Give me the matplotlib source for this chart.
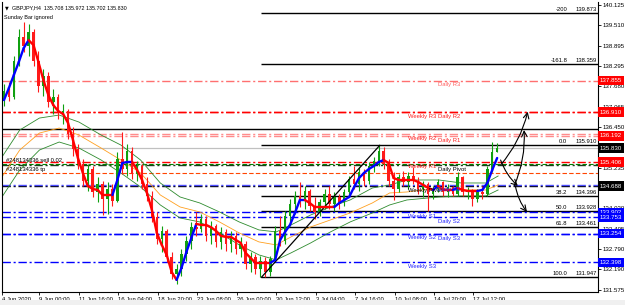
import numpy as np
import matplotlib
matplotlib.use('Agg')
import matplotlib.pyplot as plt
from matplotlib.collections import LineCollection
from matplotlib.transforms import blended_transform_factory

plt.rcParams['font.family'] = ['Liberation Sans', 'DejaVu Sans']

# GBPJPY H4, two bars merged per candle
c_open = [137.25, 137.55, 137.35, 138.45, 139.15, 138.90, 139.30, 138.45, 137.70, 138.00,
          137.20, 137.35, 136.90, 136.95, 136.25, 135.80, 135.35, 134.85, 135.20, 134.50,
          134.75, 134.30, 134.60, 134.25, 135.50, 135.20, 135.75, 135.05, 135.30, 134.75,
          134.40, 133.75, 133.10, 133.35, 132.55, 132.05, 132.20, 132.65, 133.05, 133.45,
          133.40, 133.70, 133.20, 133.50, 133.00, 133.30, 132.95, 133.20, 132.80, 132.95,
          132.35, 132.55, 132.20, 132.45, 132.10, 132.50, 133.35, 133.05, 133.80, 134.15,
          134.40, 134.25, 134.55, 134.10, 133.90, 134.20, 134.45, 134.15, 134.35, 134.20,
          134.50, 134.90, 134.75, 135.10, 134.85, 135.30, 135.45, 135.75, 135.35, 134.85,
          134.60, 134.95, 134.80, 135.00, 134.85, 134.60, 134.75, 134.45, 134.60, 134.80,
          134.50, 134.65, 134.45, 134.95, 134.50, 134.55, 134.30, 134.50, 134.45, 135.20,
          135.708]
c_high = [137.75, 137.80, 138.60, 139.40, 139.60, 139.55, 139.40, 138.75, 138.20, 138.10,
          137.60, 137.45, 137.15, 137.00, 136.45, 135.95, 135.50, 135.35, 135.30, 134.95,
          134.85, 134.80, 134.75, 135.70, 136.30, 135.95, 135.85, 135.45, 135.35, 134.95,
          134.55, 133.90, 133.50, 133.40, 132.70, 132.35, 132.80, 133.20, 133.60, 133.90,
          133.85, 133.80, 133.65, 133.55, 133.45, 133.40, 133.35, 133.30, 133.15, 133.05,
          132.70, 132.65, 132.60, 132.55, 132.60, 133.50, 133.80, 133.95, 134.30, 134.55,
          134.80, 134.70, 134.60, 134.35, 134.30, 134.60, 134.70, 134.50, 134.45, 134.60,
          135.00, 135.30, 135.25, 135.20, 135.40, 135.55, 135.91, 135.85, 135.50, 135.10,
          135.05, 135.15, 135.10, 135.25, 134.95, 134.85, 134.80, 134.70, 134.90, 134.85,
          134.75, 134.70, 135.10, 135.00, 134.65, 134.60, 134.60, 134.70, 135.30, 136.00,
          135.972]
c_low = [137.10, 137.25, 137.30, 138.30, 138.70, 138.60, 138.30, 137.50, 137.40, 137.05,
         136.85, 136.70, 136.55, 136.10, 135.60, 135.20, 134.70, 134.55, 134.35, 134.20,
         133.82, 133.85, 134.10, 134.20, 135.05, 135.00, 134.90, 134.85, 134.60, 134.25,
         133.60, 132.95, 132.70, 132.40, 131.90, 131.75, 132.00, 132.45, 132.80, 133.20,
         133.30, 133.05, 132.95, 132.85, 132.80, 132.75, 132.70, 132.65, 132.55, 132.20,
         132.10, 132.05, 131.95, 131.947, 132.00, 132.40, 132.90, 132.95, 133.50, 133.85,
         134.05, 134.00, 133.95, 133.70, 133.80, 134.00, 134.00, 133.95, 134.00, 134.10,
         134.35, 134.60, 134.55, 134.70, 134.75, 135.10, 135.30, 135.20, 134.70, 134.27,
         134.50, 134.70, 134.60, 134.75, 134.45, 134.35, 133.95, 134.30, 134.50, 134.40,
         134.35, 134.40, 134.40, 134.40, 134.30, 134.10, 134.20, 134.30, 134.40, 135.10,
         135.702]
c_close = [137.55, 137.35, 138.45, 139.15, 138.90, 139.30, 138.45, 137.70, 138.00, 137.20,
           137.35, 136.90, 136.95, 136.25, 135.80, 135.35, 134.85, 135.20, 134.50, 134.75,
           134.30, 134.60, 134.25, 135.50, 135.20, 135.75, 135.05, 135.30, 134.75, 134.40,
           133.75, 133.10, 133.35, 132.55, 132.05, 132.20, 132.65, 133.05, 133.45, 133.40,
           133.70, 133.20, 133.50, 133.00, 133.30, 132.95, 133.20, 132.80, 132.95, 132.35,
           132.55, 132.20, 132.45, 132.10, 132.50, 133.35, 133.05, 133.80, 134.15, 134.40,
           134.25, 134.55, 134.10, 133.90, 134.20, 134.45, 134.15, 134.35, 134.20, 134.50,
           134.90, 134.75, 135.10, 134.85, 135.30, 135.45, 135.75, 135.35, 134.85, 134.60,
           134.95, 134.80, 135.00, 134.85, 134.60, 134.75, 134.45, 134.60, 134.80, 134.50,
           134.65, 134.45, 134.95, 134.50, 134.55, 134.30, 134.50, 134.45, 135.20, 135.71,
           135.830]

# slope-coloured trend line, one value per candle
trend_line = [137.27, 137.63, 138.02, 138.41, 138.83, 139.07, 138.92, 138.41, 137.87, 137.42,
              137.12, 136.94, 136.85, 136.58, 136.07, 135.53, 135.08, 134.69, 134.60, 134.57,
              134.42, 134.42, 134.42, 134.87, 135.38, 135.41, 135.41, 135.17, 134.87, 134.48,
              133.97, 133.28, 132.92, 132.62, 132.11, 131.87, 132.23, 132.71, 133.13, 133.55,
              133.52, 133.52, 133.45, 133.34, 133.19, 133.16, 133.16, 133.07, 132.98, 132.68,
              132.53, 132.38, 132.38, 132.38, 132.38, 132.47, 133.07, 133.31, 133.52, 133.88,
              134.27, 134.27, 134.18, 134.06, 134.06, 134.06, 134.06, 134.06, 134.18, 134.27,
              134.36, 134.66, 134.93, 135.08, 135.20, 135.29, 135.41, 135.47, 135.38, 134.93,
              134.87, 134.87, 134.87, 134.87, 134.81, 134.72, 134.63, 134.57, 134.69, 134.57,
              134.57, 134.57, 134.63, 134.57, 134.54, 134.54, 134.54, 134.57, 134.78, 135.17,
              135.53]

# envelope bands (bar index, price)
band_bars = [0, 8, 16, 24, 32, 41, 49, 57, 65, 73, 81, 89, 97, 105, 112, 118, 126, 134,
             142, 151, 158, 165, 178, 187, 197, 202]
band_upper = [135.47, 136.37, 136.73, 136.82, 136.61, 136.22, 135.92, 135.47, 134.78, 134.36,
              134.18, 133.91, 133.61, 133.37, 133.31, 133.52, 133.82, 134.06, 134.27, 134.63,
              134.72, 134.87, 134.87, 134.78, 134.78, 134.99]
band_mid = [134.87, 135.77, 136.28, 136.43, 136.22, 135.83, 135.47, 135.08, 134.42, 134.06,
            133.91, 133.61, 133.28, 133.01, 132.92, 133.16, 133.46, 133.67, 133.88, 134.18,
            134.48, 134.51, 134.63, 134.57, 134.57, 134.72]
band_lower = [134.27, 135.17, 135.77, 136.01, 135.83, 135.47, 135.08, 134.66, 134.12, 133.73,
              133.61, 133.28, 132.92, 132.62, 132.47, 132.68, 132.98, 133.31, 133.61, 133.88,
              134.12, 134.27, 134.36, 134.39, 134.39, 134.57]

# fibonacci retracement
fib_anchor_bars = [106, 154]
fib_anchor_prices = [131.947, 135.910]
fib_levels = ['-200', '-161.8', '0.0', '38.2', '50.0', '61.8', '100.0']
fib_prices = [139.873, 138.359, 135.910, 134.396, 133.928, 133.461, 131.947]

# pivot lines
weekly_names = ['Weekly R3', 'Weekly R2', 'Weekly R1', 'Weekly Pivot', 'Weekly S1', 'Weekly S2', 'Weekly S3']
weekly_prices = [136.910, 136.250, 135.406, 134.688, 133.902, 133.254, 132.398]
daily_names = ['Daily R3', 'Daily R2', 'Daily R1', 'Daily Pivot', 'Daily S1', 'Daily S2', 'Daily S3']
daily_prices = [137.855, 136.905, 136.192, 135.310, 134.720, 133.753, 133.250]

hline_price = 136.392
bid_price = 135.830
order_price = 135.345
tp_price = 135.070

time_labels = ['4 Jun 2020', '9 Jun 00:00', '11 Jun 16:00', '16 Jun 04:00', '18 Jun 20:00',
               '23 Jun 08:00', '26 Jun 00:00', '30 Jun 12:00', '3 Jul 04:00', '7 Jul 16:00',
               '10 Jul 08:00', '14 Jul 20:00', '17 Jul 12:00']
price_ticks = [140.125, 139.510, 138.895, 138.295, 137.680, 137.065, 136.450, 135.850,
               135.235, 134.620, 134.020, 133.405, 132.790, 132.190, 131.575]

red_marks = [137.855, 136.910, 136.192, 135.406]
blue_marks = [133.902, 133.753, 133.254, 132.398]
black_marks = [135.830, 134.688]

# ---------------------------------------------------------------
FS = 4.2
fig = plt.figure(figsize=(6.25, 3.05), dpi=100)
fig.patches.append(plt.Rectangle((0, 0), 1, 5 / 305, transform=fig.transFigure,
                                 fc='#f0f0f0', ec='none'))
ax = fig.add_axes([2 / 625, 13 / 305, 596 / 625, 290 / 305])
xmin, xmax = 0.81, 242.5
ax.set_xlim(xmin, xmax)
ax.set_ylim(131.506, 140.215)

dashdot = (0, (6, 2, 1.5, 2))

# horizontal levels
ax.axhline(hline_price, color='black', lw=1.0, zorder=1)
ax.axhline(bid_price, color='#c0c0c0', lw=0.9, zorder=1)
ax.hlines(fib_prices, fib_anchor_bars[0], xmax, colors='black', lw=1.0, zorder=1)

daily_colors = {'Daily R3': '#ff7070', 'Daily R2': '#ff0000', 'Daily R1': '#ff8c8c',
                'Daily Pivot': '#1e3a1e', 'Daily S1': '#4a4aff', 'Daily S2': '#0000ff',
                'Daily S3': '#0000ff'}
weekly_colors = {'Weekly R3': '#ff0000', 'Weekly R2': '#ff8c8c', 'Weekly R1': '#ff0000',
                 'Weekly Pivot': '#000000', 'Weekly S1': '#0000ff', 'Weekly S2': '#0000ff',
                 'Weekly S3': '#0000ff'}
for name, p in zip(weekly_names, weekly_prices):
    ax.axhline(p, color=weekly_colors[name], lw=1.0, ls=dashdot, zorder=1)
for name, p in zip(daily_names, daily_prices):
    ax.axhline(p, color=daily_colors[name], lw=1.0, ls=dashdot, zorder=1)
ax.axhline(order_price, color='#008000', lw=0.8, ls=(0, (4, 2)), zorder=1)
ax.axhline(tp_price, color='#ff4500', lw=0.8, ls=(0, (4, 2)), zorder=1)

txt_kw = dict(fontsize=FS, va='top', zorder=6)
label_text_colors = {'R': '#ff2020', 'P': '#000000', 'S': '#2020ff'}
for name, p in zip(weekly_names, weekly_prices):
    kind = 'P' if 'Pivot' in name else name.split()[-1][0]
    ax.text(165.5, p - 0.05, name, color=label_text_colors[kind], **txt_kw)
for name, p in zip(daily_names, daily_prices):
    kind = 'P' if 'Pivot' in name else name.split()[-1][0]
    col = '#ff6060' if name == 'Daily R3' else label_text_colors[kind]
    ax.text(177.5, p - 0.05, name, color=col, **txt_kw)
ax.text(2.5, order_price + 0.05, '#248134336 sell 0.02', fontsize=FS, va='bottom', zorder=6)
ax.text(2.5, tp_price + 0.05, '#248134336 tp', fontsize=FS, va='bottom', zorder=6)

# fib labels and swing line
for lvl, p in zip(fib_levels, fib_prices):
    ax.text(230.0, p + 0.03, lvl, fontsize=FS, ha='right', va='bottom', zorder=6)
    ax.text(242.1, p + 0.03, f'{p:.3f}', fontsize=FS, ha='right', va='bottom', zorder=6)
ax.plot(fib_anchor_bars, fib_anchor_prices, color='black', lw=0.9, zorder=4)

# bands
ax.plot(band_bars, band_upper, color='#2e8b2e', lw=0.6, zorder=2)
ax.plot(band_bars, band_mid, color='#ffa020', lw=0.6, zorder=2)
ax.plot(band_bars, band_lower, color='#2e8b2e', lw=0.6, zorder=2)

# candles
o, h, l, c = map(np.array, (c_open, c_high, c_low, c_close))
cx = 1.6 + 2.0 * np.arange(len(c))
up = c >= o
cols = np.where(up, '#10a010', '#ff1a1a')
ax.vlines(cx, l, h, colors=cols, lw=0.8, zorder=3)
ax.bar(cx, np.maximum(np.abs(c - o), 0.02), bottom=np.minimum(o, c), width=1.0,
       color=cols, zorder=3)

# trend line coloured by direction
tl = np.array(trend_line)
seg_cols = []
state = 'blue'
for i in range(len(tl) - 1):
    if tl[i + 1] > tl[i]:
        state = 'blue'
    elif tl[i + 1] < tl[i]:
        state = 'red'
    seg_cols.append('#0000ff' if state == 'blue' else '#ff0000')
segs = [[(cx[i], tl[i]), (cx[i + 1], tl[i + 1])] for i in range(len(tl) - 1)]
ax.add_collection(LineCollection(segs, colors=seg_cols, linewidths=1.7, zorder=5,
                                 capstyle='round'))

# scenario arrows
arrows = [((203, 135.32), (214, 136.92)),
          ((203, 135.47), (210, 134.69)),
          ((208.5, 134.69), (212.5, 136.37)),
          ((209, 134.69), (213.7, 133.91))]
for (x0, y0), (x1, y1) in arrows:
    ax.annotate('', xy=(x1, y1), xytext=(x0, y0),
                arrowprops=dict(arrowstyle='->', lw=0.8, color='black', shrinkA=0, shrinkB=0,
                                connectionstyle='arc3,rad=0.12'), zorder=7)

# axes styling
ax.spines['top'].set_visible(False)
for s in ['left', 'bottom', 'right']:
    ax.spines[s].set_linewidth(0.8)
ax.yaxis.tick_right()
ax.set_yticks(price_ticks)
ax.set_yticklabels([f'{p:.3f}' for p in price_ticks])
ax.tick_params(axis='y', labelsize=4.4, length=2, width=0.6, pad=1)
xt = [xmin] + [16 * j for j in range(1, len(time_labels))]
ax.set_xticks(xt)
ax.set_xticklabels(time_labels)
ax.tick_params(axis='x', labelsize=FS, length=2, width=0.6, pad=1.5)
for lbl in ax.get_xticklabels():
    lbl.set_ha('left')

trans = blended_transform_factory(ax.transAxes, ax.transData)
for group, bg in ((red_marks, '#ff0000'), (blue_marks, '#0000ff'), (black_marks, '#000000')):
    for p in group:
        ax.text(1.003, p, f'{p:.3f}', transform=trans, fontsize=4.4, color='white',
                va='center', ha='left', clip_on=False, zorder=10,
                bbox=dict(boxstyle='square,pad=0.35', fc=bg, ec='none'))

fig.text(5 / 625, 1 - 8 / 305, '\u25bc', fontsize=3.5, va='center', family='DejaVu Sans')
fig.text(12 / 625, 1 - 8 / 305, 'GBPJPY,H4  135.708 135.972 135.702 135.830', fontsize=3.9,
         va='center')
fig.text(4 / 625, 1 - 17 / 305, 'Sunday Bar ignored', fontsize=4.0, va='center')

fig.savefig('out.png', dpi=100)
